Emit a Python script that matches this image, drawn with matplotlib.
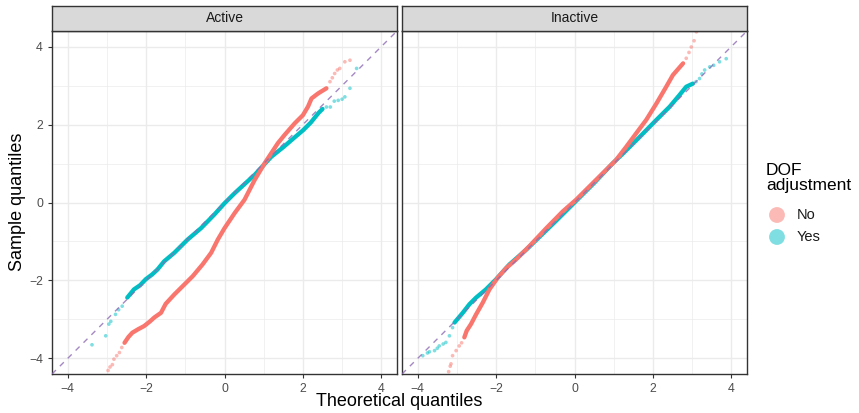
import matplotlib.pyplot as plt

plt.rcParams['font.family'] = ['Liberation Sans', 'DejaVu Sans']

RED = '#F8766D'
CYAN = '#00BFC4'

panels = ['Active', 'Inactive']

# Active / No
act_no_body_x = [-2.55, -2.45, -2.35, -2.2, -2.05, -1.9, -1.79, -1.62, -1.5, -1.28, -1.07, -0.81,
                 -0.56, -0.34, -0.17, 0.0, 0.26, 0.51, 0.77, 1.02, 1.19, 1.36, 1.53, 1.79, 2.0,
                 2.13, 2.22, 2.39, 2.6]
act_no_body_y = [-3.6, -3.45, -3.34, -3.25, -3.17, -3.05, -2.95, -2.83, -2.6, -2.36, -2.15, -1.89,
                 -1.59, -1.29, -0.95, -0.66, -0.27, 0.07, 0.58, 1.0, 1.26, 1.52, 1.73, 2.03, 2.24,
                 2.46, 2.67, 2.8, 2.93]
act_no_tail_x = [-2.97, -2.92, -2.86, -2.82, -2.75, -2.68, -2.62,
                 2.69, 2.75, 2.81, 2.88, 2.94, 3.07, 3.2]
act_no_tail_y = [-4.31, -4.22, -4.16, -4.02, -3.93, -3.85, -3.72,
                 3.1, 3.2, 3.31, 3.4, 3.44, 3.61, 3.65]

# Active / Yes
act_yes_body_x = [-2.48, -2.31, -2.15, -2.01, -1.85, -1.71, -1.54, -1.28, -0.94, -0.6, -0.26, 0.0,
                  0.26, 0.77, 1.19, 1.5, 1.8, 2.0, 2.2, 2.4, 2.5]
act_yes_body_y = [-2.44, -2.23, -2.12, -1.97, -1.85, -1.72, -1.51, -1.29, -0.95, -0.66, -0.31, -0.02,
                  0.24, 0.71, 1.17, 1.42, 1.68, 1.85, 2.05, 2.3, 2.4]
act_yes_tail_x = [-3.38, -3.03, -2.95, -2.9, -2.78, -2.7, -2.61,
                  2.6, 2.7, 2.8, 2.9, 3.0, 3.07, 3.2, 3.37]
act_yes_tail_y = [-3.65, -3.42, -3.12, -3.05, -2.87, -2.75, -2.66,
                  2.45, 2.45, 2.6, 2.62, 2.65, 2.71, 2.93, 3.44]

# Inactive / No
ina_no_body_x = [-2.81, -2.75, -2.64, -2.51, -2.34, -2.17, -1.96, -1.74, -1.49, -1.15, -0.72, -0.3,
                 0.04, 0.38, 0.85, 1.06, 1.32, 1.57, 1.83, 2.09, 2.34, 2.51, 2.77]
ina_no_body_y = [-3.46, -3.29, -3.12, -2.87, -2.57, -2.23, -1.93, -1.68, -1.46, -1.12, -0.66, -0.23,
                 0.07, 0.41, 0.88, 1.09, 1.43, 1.77, 2.12, 2.54, 2.97, 3.27, 3.57]
ina_no_tail_x = [-3.21, -3.17, -3.15, -3.11, -3.02, -2.94, -2.88,
                 2.85, 2.92, 2.98, 3.05, 3.11]
ina_no_tail_y = [-4.34, -4.2, -4.14, -3.93, -3.8, -3.68, -3.6,
                 3.7, 3.85, 3.99, 4.15, 4.38]

# Inactive / Yes
ina_yes_body_x = [-3.06, -2.85, -2.68, -2.51, -2.26, -2.0, -1.66, -1.23, -0.5, 0.0, 0.5, 0.98,
                  1.23, 1.66, 2.09, 2.43, 2.68, 2.85, 3.02]
ina_yes_body_y = [-3.08, -2.83, -2.61, -2.44, -2.23, -1.97, -1.59, -1.21, -0.5, 0.0, 0.5, 1.01,
                  1.25, 1.68, 2.12, 2.46, 2.76, 2.97, 3.05]
ina_yes_tail_x = [-3.87, -3.75, -3.7, -3.57, -3.5, -3.45, -3.35, -3.28, -3.19, -3.11,
                  3.1, 3.19, 3.25, 3.32, 3.45, 3.55, 3.7, 3.87]
ina_yes_tail_y = [-3.93, -3.86, -3.83, -3.8, -3.74, -3.68, -3.63, -3.59, -3.42, -3.21,
                  3.1, 3.18, 3.3, 3.4, 3.48, 3.52, 3.61, 3.69]

series = {
    'Active': [(act_yes_body_x, act_yes_body_y, act_yes_tail_x, act_yes_tail_y, CYAN),
               (act_no_body_x, act_no_body_y, act_no_tail_x, act_no_tail_y, RED)],
    'Inactive': [(ina_yes_body_x, ina_yes_body_y, ina_yes_tail_x, ina_yes_tail_y, CYAN),
                 (ina_no_body_x, ina_no_body_y, ina_no_tail_x, ina_no_tail_y, RED)],
}

ticks = [-4, -2, 0, 2, 4]
minor = [-3, -1, 1, 3]
lim = (-4.4, 4.4)

fig = plt.figure(figsize=(8.59, 4.13), dpi=100)

lefts = [52 / 859, 402 / 859]
w = 345 / 859
bottom = (413 - 374) / 413
h = 343 / 413
strip_h = 25 / 413

for i, name in enumerate(panels):
    ax = fig.add_axes([lefts[i], bottom, w, h])
    ax.set_xlim(lim)
    ax.set_ylim(lim)
    for t in ticks:
        ax.axvline(t, color='#EBEBEB', lw=1.0, zorder=0)
        ax.axhline(t, color='#EBEBEB', lw=1.0, zorder=0)
    for t in minor:
        ax.axvline(t, color='#EBEBEB', lw=0.5, zorder=0)
        ax.axhline(t, color='#EBEBEB', lw=0.5, zorder=0)

    for bx, by, tx, ty, col in series[name]:
        ax.plot(bx, by, color=col, lw=3.1, solid_capstyle='round', solid_joinstyle='round', zorder=2)
        ax.scatter(tx, ty, s=7, color=col, alpha=0.5, edgecolors='none', zorder=2)

    ax.plot(lim, lim, color='#8E6BB5', lw=1.0, alpha=0.8, dashes=(4, 4), zorder=3)

    ax.set_xticks(ticks)
    ax.set_xticklabels(['\u22124', '\u22122', '0', '2', '4'])
    ax.set_yticks(ticks)
    ax.tick_params(colors='#333333', labelcolor='#4D4D4D', labelsize=8.8, length=3, width=0.8)
    if i == 0:
        ax.set_yticklabels(['\u22124', '\u22122', '0', '2', '4'])
    else:
        ax.set_yticklabels([])
        ax.tick_params(axis='y', length=0)
    for s in ax.spines.values():
        s.set_color('#333333')
        s.set_linewidth(1.0)

    sax = fig.add_axes([lefts[i], bottom + h, w, strip_h])
    sax.set_xticks([])
    sax.set_yticks([])
    sax.set_facecolor('#D9D9D9')
    for s in sax.spines.values():
        s.set_color('#333333')
        s.set_linewidth(1.0)
    sax.text(0.5, 0.5, name, ha='center', va='center', fontsize=10, color='#1A1A1A',
             transform=sax.transAxes)

fig.text((52 + 747) / 2 / 859, 11 / 413, 'Theoretical quantiles', ha='center', va='center',
         fontsize=13)
fig.text(18 / 859, (413 - 202) / 413, 'Sample quantiles', ha='center', va='center',
         rotation=90, fontsize=13)

# legend
fig.text(766 / 859, (413 - 178) / 413, 'DOF\nadjustment', ha='left', va='center', fontsize=12.5,
         linespacing=1.0)
leg_labels = ['No', 'Yes']
leg_colors = [RED, CYAN]
leg_y = [215, 237]
lax = fig.add_axes([0, 0, 1, 1], facecolor='none')
lax.set_xlim(0, 859)
lax.set_ylim(413, 0)
lax.axis('off')
for lab, col, yy in zip(leg_labels, leg_colors, leg_y):
    lax.scatter([777], [yy], s=130, color=col, alpha=0.5, edgecolors='none')
    lax.text(797, yy, lab, ha='left', va='center', fontsize=10.5, color='#1A1A1A')

fig.savefig('out.png', dpi=100)
